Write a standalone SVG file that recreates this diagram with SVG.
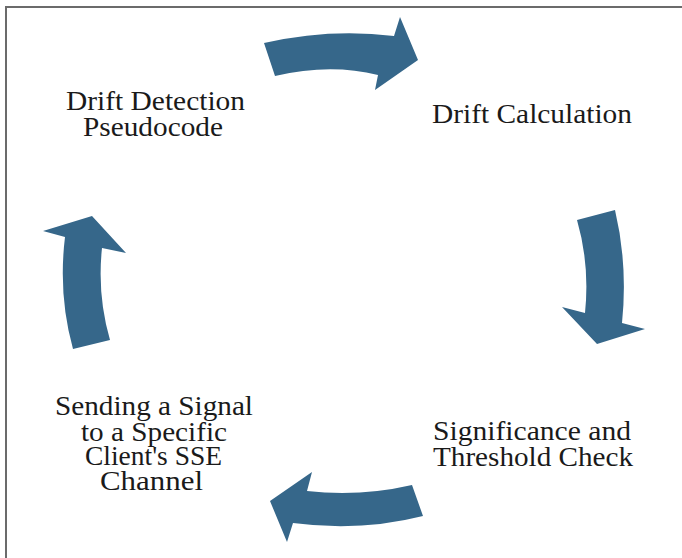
<svg xmlns="http://www.w3.org/2000/svg" width="682" height="558" viewBox="0 0 682 558">
  <style>
    .frame { stroke: #6b6b6b; stroke-width: 2; fill: none; }
    .arrow { fill: #36678a; }
    .label { font-family: "Liberation Serif", "Times New Roman", serif; font-size: 26.5px; fill: #1a1a1a; text-anchor: middle; }
  </style>
  <rect width="682" height="558" fill="#ffffff"/>
  <path class="frame" d="M6,558 L6,7 L682,7"/>

  <!-- curved block arrows forming the cycle -->
  <g id="connectors">
    <path class="arrow" d="M264,43 Q330,28 394,36 L400,17 L418,60 L375,90 L378,75 Q330,63 275,76 Z"/>
    <path class="arrow" d="M577,220 L615,210 Q628,265 622,323 L645,329 L597,344 L562,307 L585,313 Q590,265 577,220 Z"/>
    <path class="arrow" d="M412,485 L423,516 Q360,532 293,523 L287,542 L270,501 L312,472 L307,491 Q360,497 412,485 Z"/>
    <path class="arrow" d="M73,349 L110,340 Q97,295 102,248 L126,253 L92,216 L43,231 L65,237 Q58,295 73,349 Z"/>
  </g>

  <g id="drift-detection">
    <text class="label" x="155.5" y="110" textLength="179" lengthAdjust="spacingAndGlyphs">Drift Detection</text>
    <text class="label" x="153" y="136" textLength="140" lengthAdjust="spacingAndGlyphs">Pseudocode</text>
  </g>

  <g id="drift-calculation">
    <text class="label" x="532" y="123" textLength="200" lengthAdjust="spacingAndGlyphs">Drift Calculation</text>
  </g>

  <g id="threshold-check">
    <text class="label" x="532" y="440" textLength="198" lengthAdjust="spacingAndGlyphs">Significance and</text>
    <text class="label" x="533" y="466" textLength="200" lengthAdjust="spacingAndGlyphs">Threshold Check</text>
  </g>

  <g id="send-signal">
    <text class="label" x="154" y="415" textLength="198" lengthAdjust="spacingAndGlyphs">Sending a Signal</text>
    <text class="label" x="154" y="441" textLength="146" lengthAdjust="spacingAndGlyphs">to a Specific</text>
    <text class="label" x="153.5" y="465" textLength="137" lengthAdjust="spacingAndGlyphs">Client's SSE</text>
    <text class="label" x="151.5" y="490" textLength="103" lengthAdjust="spacingAndGlyphs">Channel</text>
  </g>
</svg>
